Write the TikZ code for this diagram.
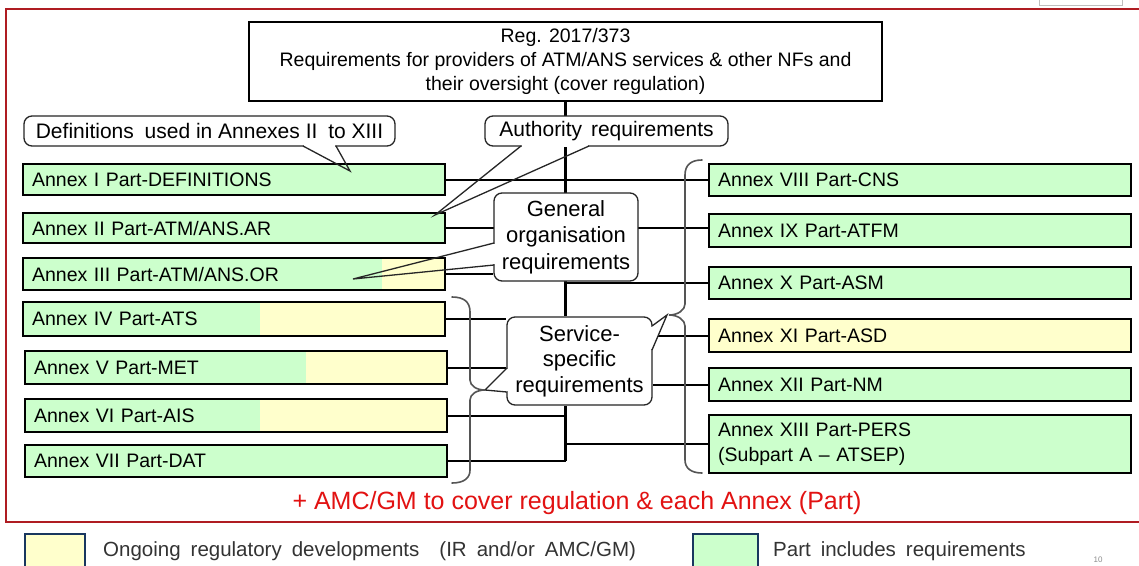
\documentclass[tikz,border=0pt]{standalone}
\usepackage{fontspec}
\setmainfont{Liberation Sans}
\usetikzlibrary{backgrounds}
\definecolor{boxgreen}{RGB}{204,255,204}
\definecolor{boxyellow}{RGB}{255,255,204}
\definecolor{framered}{RGB}{175,28,34}
\definecolor{amcred}{RGB}{226,18,18}
\definecolor{legendblue}{RGB}{25,55,95}
\definecolor{bracegray}{RGB}{85,85,85}
\begin{document}
\begin{tikzpicture}[x=1pt,y=-1pt,
  annexbox/.style={draw=black, line width=2.3pt, fill=boxgreen, anchor=north west, inner xsep=9pt, inner ysep=0pt, text width=404pt, align=left, font=\fontsize{19.5}{25}\selectfont},
  split/.style={path picture={\fill[boxyellow] ([xshift=#1]path picture bounding box.south west) rectangle (path picture bounding box.north east);}},
  callout/.style={draw=black!85, line width=1.3pt, fill=white, rounded corners=8pt, align=center, inner sep=0pt},
  callline/.style={draw=black!85, line width=1.3pt},
  tailgap/.style={draw=white, line width=2.2pt, shorten <=1.3pt, shorten >=1.3pt},
  conn/.style={draw=black, line width=2.2pt},
  spine/.style={draw=black, line width=3pt},
  bracestyle/.style={draw=bracegray, line width=1.6pt, line cap=round},
  legendbox/.style={draw=legendblue, line width=2pt, inner sep=0pt},
]
\useasboundingbox (0,0) rectangle (1139,565);

% frame
\draw[framered, line width=2.5pt] (1139,9) -- (6,9) -- (6,522) -- (1139,522);
\draw[black!25, line width=0.8pt] (1039,0) -- (1039,5) -- (1122,5) -- (1122,0);

% cover regulation
\node[draw=black, line width=2.3pt, fill=white, minimum width=633pt, minimum height=79pt, align=center, inner sep=0pt, font=\fontsize{19.5}{24}\selectfont] (reg) at (565.5,61.5) {Reg. 2017/373\\Requirements for providers of ATM/ANS services \& other NFs and\\their oversight (cover regulation)};

% left annexes
\node[annexbox, minimum height=31pt] (a1) at (22,163) {Annex I Part-DEFINITIONS};
\node[annexbox, minimum height=30pt] (a2) at (22,212) {Annex II Part-ATM/ANS.AR};
\node[annexbox, minimum height=32pt, split=359pt] (a3) at (22,257) {Annex III Part-ATM/ANS.OR};
\node[annexbox, minimum height=34pt, split=237pt] (a4) at (22,301) {Annex IV Part-ATS};
\node[annexbox, minimum height=33pt, split=281pt] (a5) at (24,350) {Annex V Part-MET};
\node[annexbox, minimum height=33pt, split=235pt] (a6) at (24,398) {Annex VI Part-AIS};
\node[annexbox, minimum height=32pt] (a7) at (24,444) {Annex VII Part-DAT};
% right annexes
\node[annexbox, minimum height=32pt] (a8) at (708,163) {Annex VIII Part-CNS};
\node[annexbox, minimum height=33pt] (a9) at (708,213) {Annex IX Part-ATFM};
\node[annexbox, minimum height=32pt] (a10) at (708,266) {Annex X Part-ASM};
\node[annexbox, minimum height=33pt, fill=boxyellow] (a11) at (708,318) {Annex XI Part-ASD};
\node[annexbox, minimum height=33pt] (a12) at (708,367) {Annex XII Part-NM};
\node[annexbox, minimum height=58pt] (a13) at (708,414) {Annex XIII Part-PERS\\(Subpart A – ATSEP)};

% callouts
\node[callout, minimum width=371pt, minimum height=30pt, font=\fontsize{21}{25}\selectfont] (defs) at (209.5,131) {Definitions\hspace{5pt} used in Annexes II\hspace{5pt} to XIII};
\node[callout, minimum width=243pt, minimum height=30pt, font=\fontsize{21}{25}\selectfont] (auth) at (606.5,131) {Authority\hspace{3pt} requirements};
\node[callout, minimum width=144pt, minimum height=88pt, font=\fontsize{22}{26.5}\selectfont] (gen) at (566,237) {General\\organisation\\requirements};
\node[callout, minimum width=145pt, minimum height=88pt, font=\fontsize{22}{25.5}\selectfont] (svc) at (579.5,361) {Service-\\specific\\requirements};

% connectors
\begin{pgfonlayer}{background}
\fill[white] (0,0) rectangle (1139,565);
\draw[spine] (reg.south) -- (reg.south |- svc.north);
\draw[spine] (reg.south |- svc.south) -- (reg.south |- a7.east);
\draw[conn] (a1.east) -- (a1.east -| a8.west);
\draw[conn] (a2.east) -- (a2.east -| a9.west);
\draw[conn] (a3.east) -- (a3.east -| gen.west);
\draw[conn] (a10.west) -- (a10.west -| reg.south);
\draw[conn] (a4.east) -- (a4.east -| svc.west);
\draw[conn] (a5.east) -- (a5.east -| svc.west);
\draw[conn] (a11.west) -- (a11.west -| svc.east);
\draw[conn] (a12.west) -- (a12.west -| svc.east);
\draw[conn] (a6.east) -- (a6.east -| reg.south);
\draw[conn] (a7.east) -- (a7.east -| reg.south);
\draw[conn] (a13.west) -- (a13.west -| reg.south);
\end{pgfonlayer}

% tails
\coordinate (defsb1) at (303,146); \coordinate (defsb2) at (336,146); \coordinate (defstip) at (350,171);
\coordinate (authb1) at (521,146); \coordinate (authb2) at (589,146); \coordinate (authtip) at (435,215);
\coordinate (genb1) at (494,243); \coordinate (genb2) at (494,265); \coordinate (gentip) at (353,279);
\coordinate (svcb1) at (507,368); \coordinate (svcb2) at (507,392); \coordinate (svctipL) at (485,390);
\coordinate (svcb3) at (652,326); \coordinate (svcb4) at (652,350); \coordinate (svctipR) at (667,315);

\draw[tailgap] (defsb1) -- (defsb2);
\draw[callline] (defsb1) -- (defstip) -- (defsb2);
\draw[tailgap] (authb1) -- (authb2);
\draw[callline] (authb1) -- (authtip) -- (authb2);
\draw[tailgap] (genb1) -- (genb2);
\draw[callline] (genb1) -- (gentip) -- (genb2);
\fill[white] (svcb1) -- (svctipL) -- (svcb2) -- cycle;
\draw[tailgap] (svcb1) -- (svcb2);
\draw[callline] (svcb1) -- (svctipL) -- (svcb2);
\fill[white] (svcb3) -- (svctipR) -- (svcb4) -- cycle;
\draw[tailgap] (svcb3) -- (svcb4);
\draw[callline] (svcb3) -- (svctipR) -- (svcb4);

% braces
\draw[bracestyle] (452,297) .. controls (464,297) and (470,302) .. (470,312) -- (470,380) .. controls (470,386) and (477,390) .. (485,390) .. controls (477,390) and (470,394) .. (470,400) -- (470,470) .. controls (470,478) and (464,483) .. (452,483);
\draw[bracestyle] (702,160) .. controls (691,160) and (685,165) .. (685,175) -- (685,304) .. controls (685,310) and (678,315) .. (669,315) .. controls (678,315) and (685,320) .. (685,326) -- (685,460) .. controls (685,468) and (691,473) .. (702,473);

% AMC/GM note
\node[text=amcred, font=\fontsize{25}{30}\selectfont, inner sep=0pt] (amc) at (577,503) {+ AMC/GM to cover regulation \& each Annex (Part)};

% legend
\node[legendbox, fill=boxyellow, minimum width=60pt, minimum height=37pt, anchor=north west] (legy) at (24,533) {};
\node[anchor=west, inner sep=0pt, font=\fontsize{20.5}{24}\selectfont, text=black!80] (legyt) at (103,551) {\spaceskip=10pt Ongoing regulatory developments\ \ (IR and/or AMC/GM)};
\node[legendbox, fill=boxgreen, minimum width=65pt, minimum height=37pt, anchor=north west] (legg) at (692,533) {};
\node[anchor=west, inner sep=0pt, font=\fontsize{20.5}{24}\selectfont, text=black!80] (leggt) at (773,551) {\spaceskip=10pt Part includes requirements};
\node[text=black!45, font=\fontsize{8}{9}\selectfont, inner sep=0pt] (pnum) at (1098,560) {10};
\end{tikzpicture}
\end{document}
